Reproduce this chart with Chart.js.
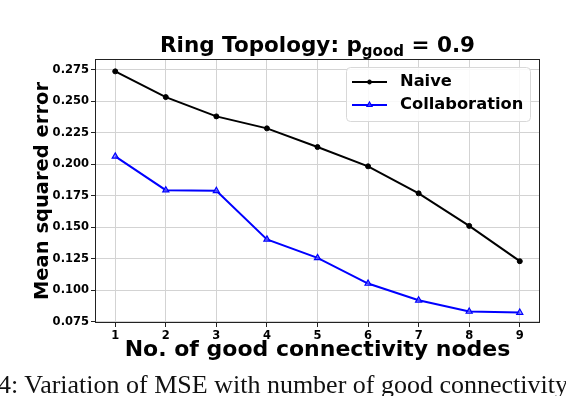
<!DOCTYPE html>
<html>
<head>
<meta charset="utf-8">
<script src="https://cdn.jsdelivr.net/npm/chart.js"></script>
<style>
body{margin:0;background:#fff;}
#wrap{position:relative;width:566px;height:396px;overflow:hidden;}
#caption{position:absolute;left:-2px;top:370px;font-family:"Liberation Serif";font-size:26px;white-space:nowrap;color:#111;}
</style>
</head>
<body>
<div id="wrap">
<canvas id="grafica" width="566" height="396"></canvas>
<div id="caption">4: Variation of MSE with number of good connectivity</div>
</div>
<script>
const nodos = [1, 2, 3, 4, 5, 6, 7, 8, 9];
const naive = [0.2737, 0.2533, 0.2380, 0.2285, 0.2137, 0.1984, 0.1770, 0.1512, 0.1232];
const collab = [0.2063, 0.1795, 0.1790, 0.1405, 0.1258, 0.1055, 0.0922, 0.0833, 0.0825];
const yTicks = [0.075, 0.1, 0.125, 0.15, 0.175, 0.2, 0.225, 0.25, 0.275];

const fuente = '"DejaVu Sans"';

// marco, titulo con subindice y leyenda dentro del grafico
const marco = {
  id: 'marco',
  afterDraw(chart) {
    const {ctx, chartArea: a} = chart;
    ctx.save();
    ctx.strokeStyle = '#222';
    ctx.lineWidth = 1;
    ctx.strokeRect(a.left + 0.5, a.top + 0.5, a.right - a.left - 1, a.bottom - a.top - 1);

    // titulo
    const t1 = 'Ring Topology: p', sub = 'good', t2 = ' = 0.9';
    ctx.fillStyle = '#000';
    ctx.textBaseline = 'alphabetic';
    ctx.textAlign = 'left';
    ctx.font = 'bold 21.5px ' + fuente;
    const w1 = ctx.measureText(t1).width, w2 = ctx.measureText(t2).width;
    ctx.font = 'bold 15px ' + fuente;
    const ws = ctx.measureText(sub).width;
    let x = (a.left + a.right) / 2 - (w1 + ws + w2) / 2;
    const base = 52;
    ctx.font = 'bold 21.5px ' + fuente;
    ctx.fillText(t1, x, base);
    x += w1;
    ctx.font = 'bold 15px ' + fuente;
    ctx.fillText(sub, x, base + 4);
    x += ws;
    ctx.font = 'bold 21.5px ' + fuente;
    ctx.fillText(t2, x, base);

    // leyenda
    const lx = 346, ly = 67, lw = 184, lh = 54;
    ctx.beginPath();
    ctx.roundRect(lx + 0.5, ly + 0.5, lw, lh, 4);
    ctx.fillStyle = 'rgba(255,255,255,0.85)';
    ctx.fill();
    ctx.strokeStyle = '#d8d8d8';
    ctx.stroke();
    chart.data.datasets.forEach((ds, i) => {
      const yy = 82 + i * 23;
      ctx.beginPath();
      ctx.moveTo(352, yy);
      ctx.lineTo(387, yy);
      ctx.strokeStyle = ds.borderColor;
      ctx.lineWidth = 2;
      ctx.stroke();
      ctx.fillStyle = ds.backgroundColor;
      ctx.strokeStyle = ds.borderColor;
      ctx.lineWidth = ds.pointBorderWidth;
      Chart.helpers.drawPoint(ctx, {pointStyle: ds.pointStyle, radius: ds.pointRadius - 0.5, rotation: 0, borderWidth: ds.pointBorderWidth}, 369.5, yy);
      ctx.fillStyle = '#000';
      ctx.font = 'bold 16.3px ' + fuente;
      ctx.textBaseline = 'middle';
      ctx.fillText(ds.label, 400, yy);
    });
    ctx.restore();
  }
};

new Chart(document.getElementById('grafica'), {
  type: 'line',
  data: {
    datasets: [
      {
        label: 'Naive',
        data: nodos.map((n, i) => ({x: n, y: naive[i]})),
        borderColor: '#000000',
        backgroundColor: '#000000',
        borderWidth: 2,
        pointStyle: 'circle',
        pointRadius: 2.5,
        pointBorderWidth: 1
      },
      {
        label: 'Collaboration',
        data: nodos.map((n, i) => ({x: n, y: collab[i]})),
        borderColor: '#0000ff',
        backgroundColor: 'rgba(110,110,255,0.6)',
        borderWidth: 2,
        pointStyle: 'triangle',
        pointRadius: 3.5,
        pointBorderWidth: 1.2
      }
    ]
  },
  options: {
    responsive: false,
    animation: false,
    layout: {padding: {top: 59, right: 26, left: 0, bottom: 0}},
    plugins: {
      legend: {display: false},
      title: {display: false},
      tooltip: {enabled: false}
    },
    scales: {
      x: {
        type: 'linear',
        min: 0.6,
        max: 9.4,
        afterBuildTicks: s => { s.ticks = nodos.map(v => ({value: v})); },
        afterFit: s => { s.height = 73; },
        ticks: {
          color: '#000',
          padding: 2,
          maxRotation: 0,
          font: {family: fuente, size: 11.5, weight: 'bold'},
          callback: v => String(v)
        },
        grid: {color: '#d3d3d3', tickColor: '#222', tickLength: 4},
        border: {display: false},
        title: {
          display: true,
          text: 'No. of good connectivity nodes',
          color: '#000',
          font: {family: fuente, size: 22, weight: 'bold'},
          padding: {top: 0, bottom: 33}
        }
      },
      y: {
        min: 0.0742,
        max: 0.2835,
        afterBuildTicks: s => { s.ticks = yTicks.map(v => ({value: v})); },
        afterFit: s => { s.width = 95; },
        ticks: {
          color: '#000',
          padding: 2,
          font: {family: fuente, size: 11.5, weight: 'bold'},
          callback: v => v.toFixed(3)
        },
        grid: {color: '#d3d3d3', tickColor: '#222', tickLength: 4},
        border: {display: false},
        title: {
          display: true,
          text: 'Mean squared error',
          color: '#000',
          font: {family: fuente, size: 19.5, weight: 'bold'},
          padding: {top: 31, bottom: 0}
        }
      }
    }
  },
  plugins: [marco]
});
</script>
</body>
</html>
